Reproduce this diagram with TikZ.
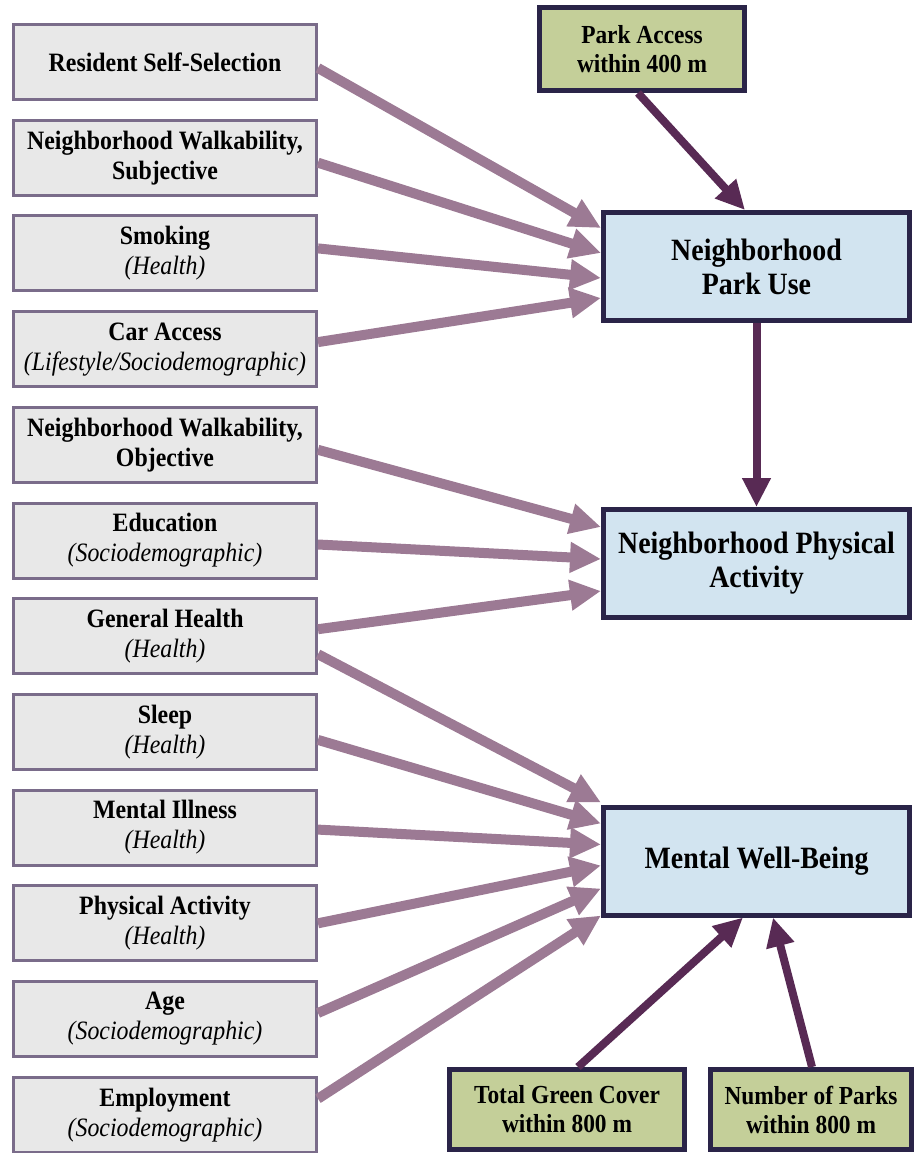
\documentclass[tikz,border=0pt]{standalone}
\usepackage{fontspec}
\setmainfont{Liberation Serif}[FakeStretch=0.9]
\usetikzlibrary{arrows.meta,calc}

\definecolor{leftfill}{RGB}{232,232,232}
\definecolor{leftedge}{RGB}{122,108,138}
\definecolor{bluefill}{RGB}{210,228,240}
\definecolor{darkedge}{RGB}{42,36,72}
\definecolor{greenfill}{RGB}{196,207,153}
\definecolor{lightarrow}{RGB}{156,122,148}
\definecolor{darkarrow}{RGB}{88,42,84}

\begin{document}
\begin{tikzpicture}[x=1pt,y=-1pt,
  factor/.style={draw=leftedge, line width=3pt, fill=leftfill,
    minimum width=303pt, minimum height=75pt, align=center, inner sep=2pt,
    font=\fontsize{26.5}{30}\selectfont},
  outcome/.style={draw=darkedge, line width=5pt, fill=bluefill,
    minimum width=306pt, minimum height=108pt, align=center, inner sep=2pt,
    font=\fontsize{31}{34}\selectfont\bfseries},
  exposure/.style={draw=darkedge, line width=5pt, fill=greenfill,
    minimum height=80pt, align=center, inner sep=2pt,
    font=\fontsize{26}{29}\selectfont\bfseries},
  weak/.style={draw=lightarrow, line width=10pt,
    -{Triangle[length=31pt 0 0,width=29pt 0 0]}},
  strong/.style={draw=darkarrow, line width=8pt,
    -{Triangle[length=29pt 0 0,width=27pt 0 0]}}
]
\useasboundingbox (0,0) rectangle (917,1153);

% covariate boxes (left column)
\node[factor] (rs)  at (165,62.0)   {\textbf{Resident Self-Selection}};
\node[factor] (nws) at (165,157.7)  {\textbf{Neighborhood Walkability,}\\\textbf{Subjective}};
\node[factor] (smk) at (165,253.4)  {\textbf{Smoking}\\\textit{(Health)}};
\node[factor] (car) at (165,349.1)  {\textbf{Car Access}\\\textit{(Lifestyle/Sociodemographic)}};
\node[factor] (nwo) at (165,444.8)  {\textbf{Neighborhood Walkability,}\\\textbf{Objective}};
\node[factor] (edu) at (165,540.5)  {\textbf{Education}\\\textit{(Sociodemographic)}};
\node[factor] (gh)  at (165,636.2)  {\textbf{General Health}\\\textit{(Health)}};
\node[factor] (slp) at (165,731.9)  {\textbf{Sleep}\\\textit{(Health)}};
\node[factor] (mi)  at (165,827.6)  {\textbf{Mental Illness}\\\textit{(Health)}};
\node[factor] (phy) at (165,923.3)  {\textbf{Physical Activity}\\\textit{(Health)}};
\node[factor] (age) at (165,1019.0) {\textbf{Age}\\\textit{(Sociodemographic)}};
\node[factor] (emp) at (165,1114.7) {\textbf{Employment}\\\textit{(Sociodemographic)}};

% outcome boxes (right column)
\node[outcome] (pu) at (756.5,266.5) {Neighborhood\\Park Use};
\node[outcome] (pa) at (756.5,563.5) {Neighborhood Physical\\Activity};
\node[outcome] (mw) at (756.5,861.0) {Mental Well-Being};

% green-space exposures
\node[exposure, minimum width=205pt, minimum height=83pt] (pacc) at (642,49) {Park Access\\within 400 m};
\node[exposure, minimum width=235pt] (gc) at (567,1109.5) {Total Green Cover\\within 800 m};
\node[exposure, minimum width=201pt] (np) at (811,1109.5) {Number of Parks\\within 800 m};

% covariates -> park use
\draw[weak] ($(rs.east)+(0,6)$)  -- ($(pu.north west)+(0,18)$);
\draw[weak] ($(nws.east)+(0,5)$) -- ($(pu.north west)+(0,43)$);
\draw[weak] ($(smk.east)+(0,-5)$) -- ($(pu.north west)+(0,68)$);
\draw[weak] ($(car.east)+(0,-7)$) -- ($(pu.north west)+(0,88)$);

% covariates -> physical activity
\draw[weak] ($(nwo.east)+(0,5)$) -- ($(pa.north west)+(0,20)$);
\draw[weak] ($(edu.east)+(0,4)$) -- ($(pa.north west)+(0,52)$);
\draw[weak] ($(gh.east)+(0,-7)$) -- ($(pa.north west)+(0,84)$);

% covariates -> mental well-being
\draw[weak] ($(gh.east)+(0,18)$)  -- ($(mw.north west)+(0,-2)$);
\draw[weak] ($(slp.east)+(0,8)$)  -- ($(mw.north west)+(0,19)$);
\draw[weak] ($(mi.east)+(0,2)$)   -- ($(mw.north west)+(0,40)$);
\draw[weak] ($(phy.east)+(0,0)$)  -- ($(mw.north west)+(0,61)$);
\draw[weak] ($(age.east)+(0,-6)$) -- ($(mw.north west)+(0,84)$);
\draw[weak] ($(emp.east)+(0,-16)$) -- ($(mw.north west)+(0,111)$);

% green-space paths
\draw[strong] ($(pacc.south west)+(101,0)$) -- ($(pu.north west)+(144,0)$);
\draw[strong] (pu.south) -- (pa.north);
\draw[strong] ($(gc.north west)+(131,0)$) -- ($(mw.south west)+(142,0)$);
\draw[strong] ($(np.north west)+(104,0)$) -- ($(mw.south west)+(172,0)$);
\end{tikzpicture}
\end{document}
